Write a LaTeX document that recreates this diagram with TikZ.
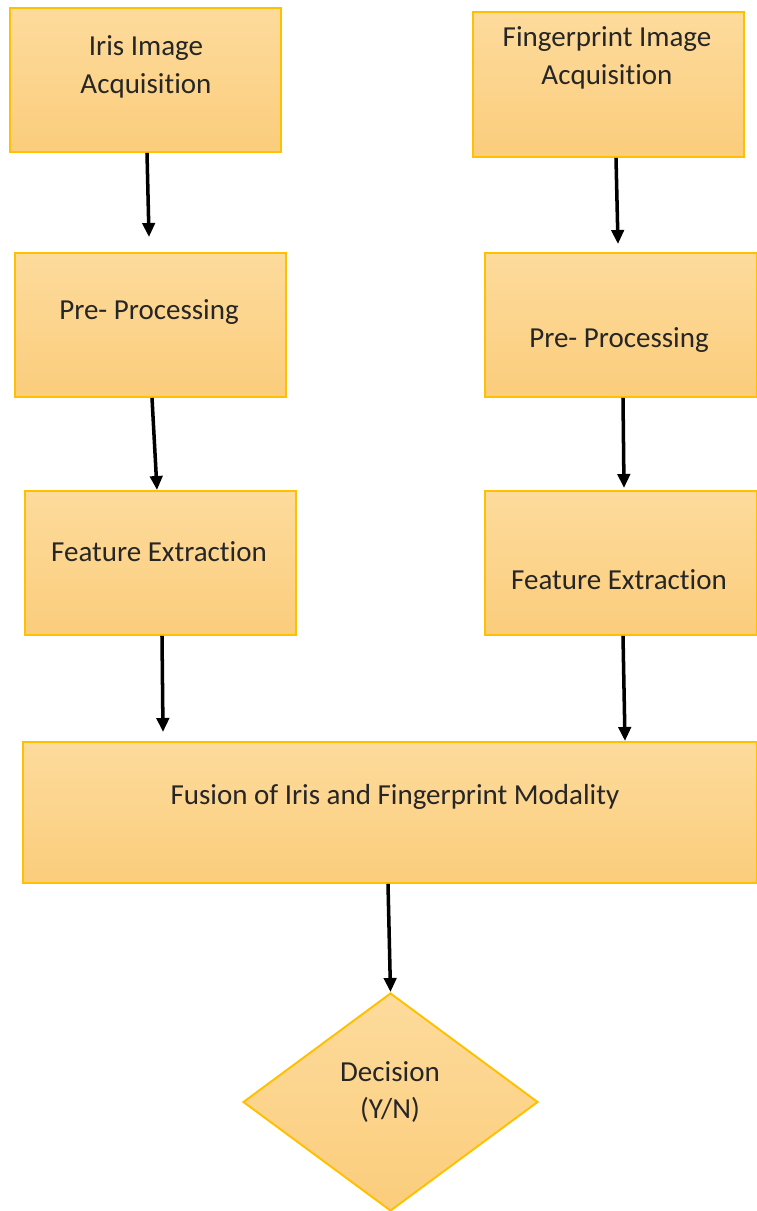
\documentclass[tikz,border=0pt]{standalone}
\usepackage{fontspec}
\setmainfont{Carlito}[Ligatures={NoCommon}]
\usetikzlibrary{arrows.meta,calc,shapes.geometric}
\definecolor{boxtop}{RGB}{253,219,156}
\definecolor{boxbot}{RGB}{251,205,124}
\definecolor{boxline}{RGB}{255,192,0}
\definecolor{ink}{RGB}{38,38,38}
\tikzset{
  stepbox/.style={draw=boxline, line width=1.1pt, top color=boxtop, bottom color=boxbot,
    inner sep=0pt, rectangle},
  decbox/.style={draw=boxline, line width=1.1pt, top color=boxtop, bottom color=boxbot,
    diamond, inner sep=0pt, minimum width=5.9cm, minimum height=4.36cm},
  lbl/.style={text=ink, align=center, inner sep=0pt,
    font=\fontsize{16.5}{21.5}\selectfont},
  arr/.style={draw=black, line width=2pt, -{Triangle[length=8pt,width=7pt]}},
}
\begin{document}
\begin{tikzpicture}[x=0.02cm, y=-0.02cm]
\useasboundingbox (0,0) rectangle (757,1211);

% left column: iris
\node[stepbox, minimum width=5.42cm, minimum height=2.88cm] (iris) at (145.5,80) {};
\node[stepbox, minimum width=5.42cm, minimum height=2.88cm] (pre1) at (150.5,325) {};
\node[stepbox, minimum width=5.42cm, minimum height=2.88cm] (fe1) at (160.5,563) {};

% right column: fingerprint
\node[stepbox, minimum width=5.42cm, minimum height=2.9cm] (fp) at (608.5,84.5) {};
\node[stepbox, minimum width=5.44cm, minimum height=2.88cm] (pre2) at (621,325) {};
\node[stepbox, minimum width=5.44cm, minimum height=2.88cm] (fe2) at (621,563) {};

% fusion and decision
\node[stepbox, minimum width=14.68cm, minimum height=2.82cm] (fus) at (390,812.5) {};
\node[decbox] (dec) at (390.5,1102) {};

% labels
\node[lbl] (irisT) at (146,67) {Iris Image\\Acquisition};
\node[lbl] (fpT) at (607,58) {Fingerprint Image\\Acquisition};
\node[lbl] (pre1T) at (149,312) {Pre- Processing};
\node[lbl] (pre2T) at (619,340) {Pre- Processing};
\node[lbl] (fe1T) at (159,552) {Feature Extraction};
\node[lbl] (fe2T) at (619,580) {Feature Extraction};
\node[lbl] (fusT) at (395,797) {Fusion of Iris and Fingerprint Modality};
\node[lbl] (decT) at (390,1092) {Decision\\(Y/N)};

% connectors
\draw[arr] ($(iris.south)+(1.5,0)$) -- ($(pre1.north)+(-1.5,-15)$);
\draw[arr] ($(fp.south)+(7.5,0)$) -- ($(pre2.north)+(-3,-8)$);
\draw[arr] ($(pre1.south)+(1.5,0)$) -- ($(fe1.north)+(-3.5,0)$);
\draw[arr] ($(pre2.south)+(2,0)$) -- ($(fe2.north)+(3,-2)$);
\draw[arr] ($(fe1.south)+(1.5,0)$) -- ($(fus.north)+(-227,-9)$);
\draw[arr] ($(fe2.south)+(2,0)$) -- ($(fus.north)+(235,0)$);
\draw[arr] ($(fus.south)+(-2,0)$) -- (dec.north);
\end{tikzpicture}
\end{document}
